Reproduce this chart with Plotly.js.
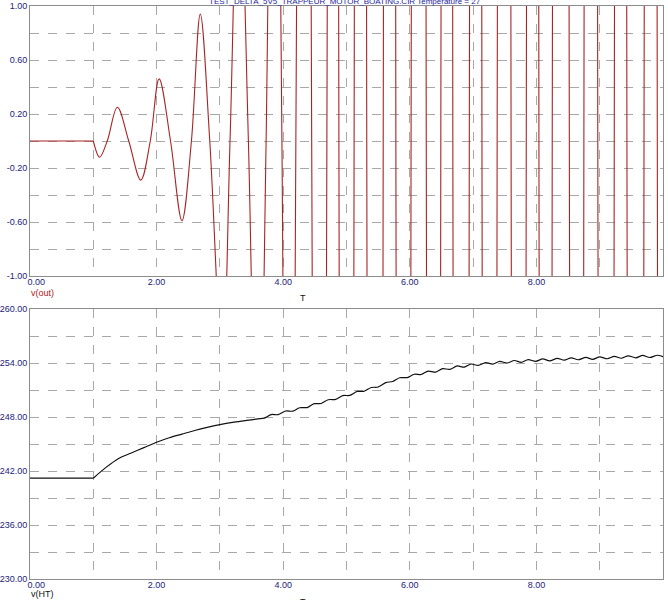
<!DOCTYPE html>
<html>
<head>
<meta charset="utf-8">
<script src="https://cdn.plot.ly/plotly-3.0.1.min.js"></script>
<style>html,body{margin:0;padding:0;background:#fff;}#chart{width:668px;height:600px;}</style>
</head>
<body>
<div id="chart"></div>
<script>
// ---- data ----
const titleText = "TEST_DELTA_5V5_TRAPPEUR_MOTOR_BOATING.CIR Temperature = 27";

// top panel: v(out) — quiet section, then the oscillation
const outFlatTime = [0, 1.0];
const outFlatValue = [0, 0];
const outTime = [1.0, 1.1, 1.22, 1.38, 1.56, 1.75, 1.9, 2.04, 2.22, 2.4, 2.55, 2.69, 2.84,
  3.04, 3.16, 3.30, 3.45, 3.60, 3.73, 3.86, 3.98, 4.09, 4.20, 4.33, 4.45, 4.57, 4.69, 4.79, 4.88,
  5.0, 5.12, 5.22, 5.32, 5.45, 5.58, 5.68, 5.78, 5.9, 6.02, 6.14, 6.26, 6.38, 6.49, 6.59, 6.68,
  6.81, 6.94, 7.04, 7.14, 7.26, 7.38, 7.49, 7.60, 7.72, 7.84, 7.94, 8.04, 8.15, 8.25, 8.38, 8.52,
  8.64, 8.75, 8.86, 8.97, 9.1, 9.23, 9.33, 9.43, 9.57, 9.70, 9.8, 9.91, 10.0];
const outValue = [0, -0.12, 0, 0.25, 0, -0.29, 0, 0.46, 0, -0.59, 0, 0.94, 0,
  -1.7, 0, 2.2, 0, -3, 0, 5, 0, -8, 0, 12, 0, -15, 0, 20, 0,
  -25, 0, 30, 0, -30, 0, 30, 0, -30, 0, 30, 0, -30, 0, 30, 0,
  -30, 0, 30, 0, -30, 0, 30, 0, -30, 0, 30, 0, -30, 0, 30, 0,
  -30, 0, 30, 0, -30, 0, 30, 0, -30, 0, 30, 0, -30];

// bottom panel: v(HT) — flat section, then the rise
const htFlatTime = [0, 1.0];
const htFlatValue = [241.2, 241.2];
const htTime = [1.0, 1.2, 1.4, 1.6, 1.8, 2.0, 2.2, 2.4, 2.6, 2.8, 3.0, 3.2, 3.4, 3.6,
  3.70, 3.81, 3.92, 4.04, 4.15, 4.26, 4.38, 4.49, 4.60, 4.71, 4.83, 4.94, 5.05, 5.17, 5.28, 5.39,
  5.50, 5.62, 5.73, 5.84, 5.96, 6.07, 6.18, 6.29, 6.41, 6.52, 6.63, 6.75, 6.86, 6.97, 7.08, 7.20,
  7.31, 7.42, 7.54, 7.65, 7.76, 7.87, 7.99, 8.10, 8.21, 8.33, 8.44, 8.55, 8.66, 8.78, 8.89, 9.00,
  9.12, 9.23, 9.34, 9.45, 9.57, 9.68, 9.79, 9.91, 10.0];
const htValue = [241.2, 242.4, 243.4, 244.0, 244.6, 245.2, 245.7, 246.1, 246.5, 246.85, 247.15, 247.4, 247.6, 247.8,
  247.87, 248.27, 248.26, 248.67, 248.65, 249.03, 249.05, 249.48, 249.5, 249.92, 249.96, 250.38, 250.4, 250.84, 250.86, 251.28,
  251.33, 251.82, 251.95, 252.36, 252.38, 252.75, 252.72, 253.1, 252.99, 253.38, 253.29, 253.67, 253.54, 253.89, 253.73, 254.04,
  253.87, 254.17, 254.0, 254.28, 254.08, 254.37, 254.18, 254.45, 254.24, 254.52, 254.31, 254.58, 254.36, 254.62, 254.41, 254.67,
  254.47, 254.74, 254.53, 254.8, 254.58, 254.84, 254.61, 254.86, 254.7];

// tick labels
const xTickVals = [0, 2, 4, 6, 8, 10];
const xTickText = ["\u00a0\u00a0\u00a0\u00a0\u00a00.00", "2.00", "4.00", "6.00", "8.00", "10.00\u00a0\u00a0\u00a0\u00a0\u00a0\u00a0\u00a0"];
const topYTickVals = [-1.0, -0.6, -0.2, 0.2, 0.6, 1.0];
const topYTickText = ["-1.00", "-0.60", "-0.20", "0.20", "0.60", "1.00"];
const botYTickVals = [230, 236, 242, 248, 254, 260];
const botYTickText = ["230.00", "236.00", "242.00", "248.00", "254.00", "260.00"];

// ---- styling ----
const W = 668, H = 600;
const gridCol = '#a8a8a8';
const frameCol = '#8c8c8c';
const tickCol = '#23237a';
const FONT = 'Liberation Sans, Arial, sans-serif';
const tickFont = {family: FONT, size: 9, color: tickCol};

function xAxis(anchor) {
  return {
    domain: [30 / W, 663 / W], anchor: anchor, range: [0, 10],
    tickmode: 'array', tickvals: xTickVals, ticktext: xTickText,
    showgrid: true, gridcolor: gridCol, griddash: 'dash', gridwidth: 1,
    minor: {tickmode: 'linear', tick0: 0, dtick: 1, showgrid: true, gridcolor: gridCol, griddash: 'dash', gridwidth: 1, ticks: ''},
    showline: true, mirror: true, linecolor: frameCol, linewidth: 1,
    zeroline: false, ticks: '', tickfont: tickFont, ticklabelstandoff: -3, fixedrange: true
  };
}
function yAxis(anchor, dom, range, tv, tt, mdt) {
  return {
    domain: dom, anchor: anchor, range: range,
    tickmode: 'array', tickvals: tv, ticktext: tt,
    showgrid: true, gridcolor: gridCol, griddash: 'dash', gridwidth: 1,
    minor: {tickmode: 'linear', tick0: range[0], dtick: mdt, showgrid: true, gridcolor: gridCol, griddash: 'dash', gridwidth: 1, ticks: ''},
    showline: true, mirror: true, linecolor: frameCol, linewidth: 1,
    zeroline: false, ticks: '', tickfont: tickFont, fixedrange: true
  };
}

const red = '#a82424';
const traces = [
  {x: outFlatTime, y: outFlatValue, xaxis: 'x', yaxis: 'y', type: 'scatter', mode: 'lines',
   line: {color: red, width: 1.1}, hoverinfo: 'skip'},
  {x: outTime, y: outValue, xaxis: 'x', yaxis: 'y', type: 'scatter', mode: 'lines',
   line: {color: red, width: 1.1, shape: 'spline', smoothing: 1}, hoverinfo: 'skip'},
  {x: htFlatTime, y: htFlatValue, xaxis: 'x2', yaxis: 'y2', type: 'scatter', mode: 'lines',
   line: {color: '#111111', width: 1.2}, hoverinfo: 'skip'},
  {x: htTime, y: htValue, xaxis: 'x2', yaxis: 'y2', type: 'scatter', mode: 'lines',
   line: {color: '#111111', width: 1.2, shape: 'spline', smoothing: 0.8}, hoverinfo: 'skip'}
];

const layout = {
  width: W, height: H,
  margin: {l: 0, r: 0, t: 0, b: 0},
  paper_bgcolor: '#ffffff', plot_bgcolor: '#ffffff',
  showlegend: false,
  xaxis: xAxis('y'),
  yaxis: yAxis('x', [1 - 276 / H, 1 - 6 / H], [-1, 1], topYTickVals, topYTickText, 0.2),
  xaxis2: xAxis('y2'),
  yaxis2: yAxis('x2', [1 - 579 / H, 1 - 309 / H], [230, 260], botYTickVals, botYTickText, 3),
  annotations: [
    {text: titleText, xref: 'paper', yref: 'paper', x: 345 / W, y: 1 - 2 / H, xanchor: 'center', yanchor: 'middle',
     showarrow: false, font: {family: FONT, size: 8, color: '#2424a0'}},
    {text: 'v(out)', xref: 'paper', yref: 'paper', x: 29 / W, y: 1 - 293 / H, xanchor: 'left', yanchor: 'middle',
     showarrow: false, font: {family: FONT, size: 9, color: '#b02020'}},
    {text: 'T', xref: 'paper', yref: 'paper', x: 303 / W, y: 1 - 298 / H, xanchor: 'center', yanchor: 'middle',
     showarrow: false, font: {family: FONT, size: 9, color: '#111111'}},
    {text: 'v(HT)', xref: 'paper', yref: 'paper', x: 29 / W, y: 1 - 594 / H, xanchor: 'left', yanchor: 'middle',
     showarrow: false, font: {family: FONT, size: 9, color: '#111111'}},
    {text: 'T', xref: 'paper', yref: 'paper', x: 303 / W, y: 0, yshift: 5, xanchor: 'center', yanchor: 'top',
     showarrow: false, font: {family: FONT, size: 9, color: '#111111'}}
  ]
};

Plotly.newPlot('chart', traces, layout, {displayModeBar: false, staticPlot: true});
</script>
</body>
</html>
